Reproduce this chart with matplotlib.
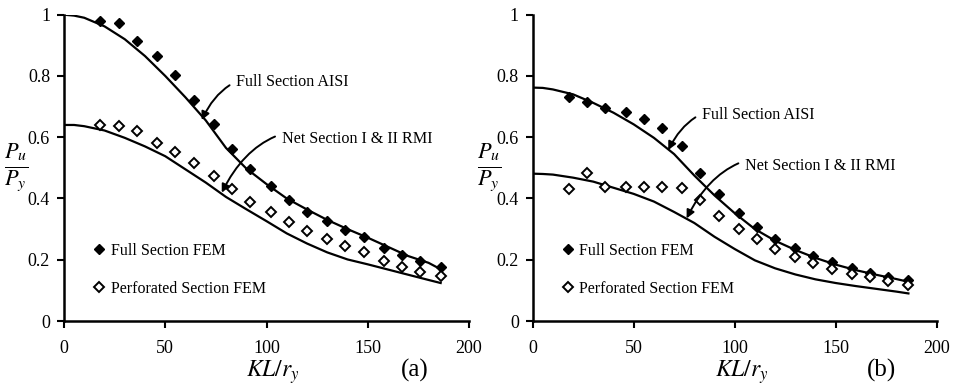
import matplotlib
matplotlib.use("Agg")
import matplotlib.pyplot as plt

plt.rcParams['font.family'] = ['Liberation Serif', 'DejaVu Serif']
plt.rcParams['mathtext.fontset'] = 'stix'

# ---- data ----
kl_fem = [18, 27, 36, 46, 55, 64, 74, 83, 92, 102, 111, 120, 130, 139, 148, 158, 167, 176, 186]

a_full_fem = [0.979, 0.974, 0.915, 0.865, 0.802, 0.722, 0.643, 0.563, 0.496, 0.442, 0.394,
              0.356, 0.325, 0.298, 0.274, 0.239, 0.216, 0.195, 0.175]
a_perf_fem = [0.641, 0.637, 0.620, 0.582, 0.551, 0.515, 0.474, 0.432, 0.390, 0.355, 0.323,
              0.294, 0.269, 0.246, 0.226, 0.195, 0.176, 0.161, 0.146]
b_full_fem = [0.731, 0.715, 0.694, 0.683, 0.659, 0.631, 0.572, 0.484, 0.416, 0.354, 0.306,
              0.268, 0.237, 0.212, 0.192, 0.173, 0.158, 0.145, 0.134]
b_perf_fem = [0.432, 0.482, 0.437, 0.437, 0.437, 0.437, 0.433, 0.394, 0.344, 0.301, 0.267,
              0.235, 0.209, 0.188, 0.171, 0.155, 0.143, 0.131, 0.119]

kl_curve = [0, 5, 10, 20, 30, 40, 50, 60, 70, 80, 90, 100, 110, 120, 130, 140, 150, 160, 170, 180, 186]
a_full_aisi = [1.0, 0.997, 0.99, 0.962, 0.92, 0.865, 0.80, 0.73, 0.655, 0.565, 0.498, 0.447,
               0.40, 0.364, 0.33, 0.30, 0.272, 0.242, 0.212, 0.19, 0.169]
a_net_rmi = [0.64, 0.64, 0.636, 0.622, 0.598, 0.57, 0.538, 0.495, 0.452, 0.405, 0.365, 0.326,
             0.286, 0.253, 0.224, 0.201, 0.185, 0.168, 0.151, 0.134, 0.124]
b_full_aisi = [0.762, 0.761, 0.756, 0.74, 0.712, 0.68, 0.642, 0.598, 0.545, 0.475, 0.41, 0.352,
               0.30, 0.262, 0.232, 0.206, 0.184, 0.166, 0.151, 0.137, 0.128]
b_net_rmi = [0.481, 0.48, 0.478, 0.468, 0.455, 0.435, 0.415, 0.39, 0.356, 0.32, 0.275, 0.235,
             0.198, 0.172, 0.152, 0.136, 0.124, 0.114, 0.105, 0.096, 0.090]

xticks = [0, 50, 100, 150, 200]
yticks = [0, 0.2, 0.4, 0.6, 0.8, 1]
ytick_labels = ["0", "0.2", "0.4", "0.6", "0.8", "1"]
legend_labels = ["Full Section FEM", "Perforated Section FEM"]
curve_labels = ["Full Section AISI", "Net Section I & II RMI"]

fig = plt.figure(figsize=(9.59, 3.85), dpi=100)

W, H = 959.0, 385.0
axA = fig.add_axes([64 / W, (H - 321) / H, 405 / W, 306.3 / H])
axB = fig.add_axes([532.7 / W, (H - 321) / H, 404 / W, 306.3 / H])

panels = [
    (axA, a_full_fem, a_perf_fem, a_full_aisi, a_net_rmi, "(a)",
     ((84.9, 0.781), (68.0, 0.656)), ((107.5, 0.593), (77.9, 0.419)), 415),
    (axB, b_full_fem, b_perf_fem, b_full_aisi, b_net_rmi, "(b)",
     ((83.7, 0.673), (67.1, 0.558)), ((105.1, 0.507), (76.2, 0.335)), 882),
]

for ax, ffem, pfem, faisi, nrmi, tag, ann1, ann2, tagx in panels:
    ax.plot(kl_curve, faisi, color='black', lw=1.6)
    ax.plot(kl_curve, nrmi, color='black', lw=1.6)
    ax.plot(kl_fem, ffem, linestyle='none', marker='D', markersize=5.5,
            markerfacecolor='black', markeredgecolor='black', label=legend_labels[0])
    ax.plot(kl_fem, pfem, linestyle='none', marker='D', markersize=5,
            markerfacecolor='white', markeredgecolor='black', markeredgewidth=1.4,
            label=legend_labels[1])

    ax.set_xlim(0, 200)
    ax.set_ylim(0, 1)
    ax.set_xticks(xticks)
    ax.set_yticks(yticks)
    ax.set_yticklabels(ytick_labels)
    for s in ['top', 'right']:
        ax.spines[s].set_visible(False)
    for s in ['left', 'bottom']:
        ax.spines[s].set_linewidth(1.8)
    ax.tick_params(axis='both', direction='out', length=5, width=1.5, labelsize=13)
    ax.tick_params(axis='y', pad=5)
    ax.tick_params(axis='x', pad=9)

    for (txy, tip), lab in [(ann1, curve_labels[0]), (ann2, curve_labels[1])]:
        ax.annotate(lab, xy=tip, xytext=txy, fontsize=11.6, va='center', ha='left',
                    arrowprops=dict(arrowstyle='-|>', color='black', lw=1.4,
                                    connectionstyle="arc3,rad=0.45",
                                    shrinkA=3, shrinkB=0, mutation_scale=12))

    ax.legend(loc='upper left', bbox_to_anchor=(0.06, 0.277), frameon=False,
              fontsize=11.5, handlelength=0.6, handletextpad=0.4, labelspacing=1.4,
              borderaxespad=0)

    fig.text(tagx / W, 1 - 370 / H, tag, fontsize=18, ha='center', va='center')

fig.text(16 / W, 1 - 168 / H, r'$\frac{P_u}{P_y}$', fontsize=23, ha='center', va='center')
fig.text(489 / W, 1 - 168 / H, r'$\frac{P_u}{P_y}$', fontsize=23, ha='center', va='center')
fig.text(273 / W, 1 - 372 / H, r'$KL/r_y$', fontsize=17, ha='center', va='center')
fig.text(742 / W, 1 - 372 / H, r'$KL/r_y$', fontsize=17, ha='center', va='center')

fig.savefig("out.png", dpi=100)
